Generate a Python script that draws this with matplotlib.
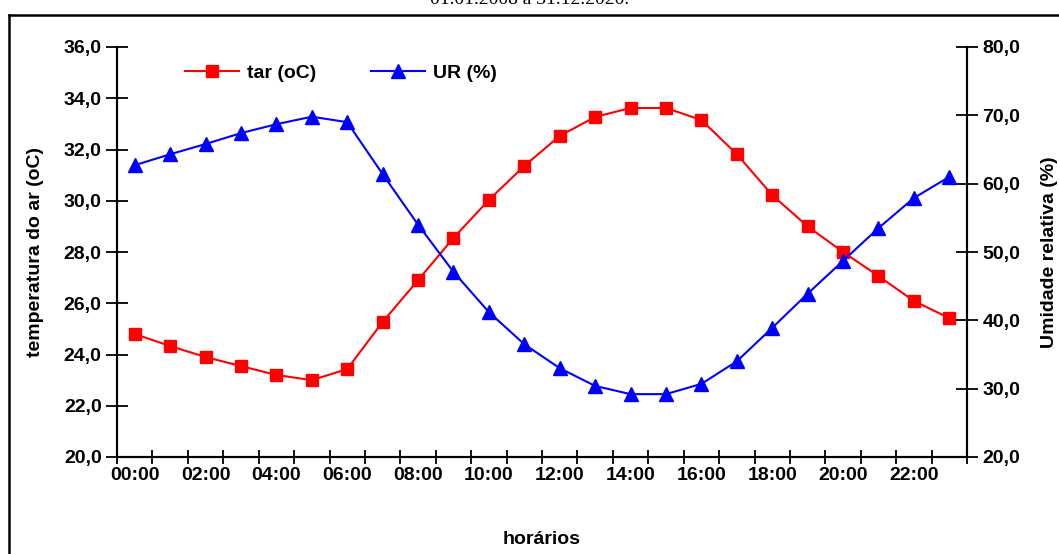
import matplotlib
matplotlib.use("Agg")
import matplotlib.pyplot as plt
import numpy as np

# hourly means (categories 0..23)
horas = np.arange(24)
rotulos = ["00:00", "02:00", "04:00", "06:00", "08:00", "10:00",
           "12:00", "14:00", "16:00", "18:00", "20:00", "22:00"]
tar = [24.8, 24.33, 23.9, 23.55, 23.2, 23.0, 23.43, 25.27, 26.9, 28.55, 30.03, 31.36,
       32.53, 33.27, 33.62, 33.62, 33.15, 31.82, 30.22, 29.0, 28.0, 27.06, 26.09, 25.42]
ur = [62.7, 64.3, 65.8, 67.4, 68.7, 69.8, 69.0, 61.4, 54.0, 47.1, 41.2, 36.5,
      33.0, 30.4, 29.2, 29.2, 30.7, 34.0, 38.9, 43.9, 48.7, 53.5, 57.9, 61.0]

plt.rcParams['font.family'] = ['Liberation Sans', 'DejaVu Sans']
plt.rcParams['font.weight'] = 'bold'
plt.rcParams['axes.labelweight'] = 'bold'
fs = 14

fig = plt.figure(figsize=(10.59, 5.54), dpi=100)
ax = fig.add_axes([117/1059, 97/554, 850/1059, 410/554])
ax2 = ax.twinx()

l1, = ax.plot(horas + 0.5, tar, color='#ff0000', lw=1.5, marker='s', ms=8,
              label='tar (oC)')
l2, = ax2.plot(horas + 0.5, ur, color='#0000ff', lw=1.5, marker='^', ms=9.5,
               label='UR (%)')

ax.set_xlim(0, 24)
ax.set_ylim(20, 36)
ax2.set_ylim(20, 80)
ax.set_yticks(np.arange(20, 36.1, 2))
ax2.set_yticks(np.arange(20, 80.1, 10))
ax.set_yticklabels([f"{v:.1f}".replace('.', ',') for v in np.arange(20, 36.1, 2)])
ax2.set_yticklabels([f"{v:.1f}".replace('.', ',') for v in np.arange(20, 80.1, 10)])

ax.set_xticks(np.arange(0, 25, 1))
ax.set_xticklabels([])
ax.set_xticks(np.arange(0.5, 24, 2), minor=True)
ax.set_xticklabels(rotulos, minor=True)
ax.tick_params(axis='x', which='minor', length=0, pad=7, labelsize=fs)
ax.tick_params(axis='x', which='major', direction='inout', length=10, width=1.3)
ax.tick_params(axis='y', direction='inout', length=16, width=1.3, labelsize=fs, pad=3)
ax2.tick_params(axis='y', direction='inout', length=16, width=1.3, labelsize=fs, pad=3)

for a in (ax, ax2):
    a.spines['top'].set_visible(False)
    for s in ('left', 'right', 'bottom'):
        a.spines[s].set_linewidth(1.5)

ax.set_ylabel('temperatura do ar (oC)', fontsize=fs, labelpad=14)
ax2.set_ylabel('Umidade relativa (%)', fontsize=fs, labelpad=15)
ax.set_xlabel('horários', fontsize=fs, labelpad=34)

ax.legend(handles=[l1, l2], ncol=2, frameon=False, fontsize=fs,
          loc='upper left', bbox_to_anchor=(0.059, 1.0), handlelength=2.8,
          columnspacing=2.8, handletextpad=0.4)

# outer chart border and cut-off title
fig.add_artist(plt.Line2D([9/1059, 9/1059], [0, 1 - 15/554], color='black', lw=1.8))
fig.add_artist(plt.Line2D([9/1059, 1], [1 - 15/554, 1 - 15/554], color='black', lw=1.8))
fig.text(0.5, 1.0, '01.01.2008 a 31.12.2020.', ha='center', va='center',
         fontsize=14, family='Liberation Serif', weight='normal')

fig.savefig('out.png', dpi=100)
